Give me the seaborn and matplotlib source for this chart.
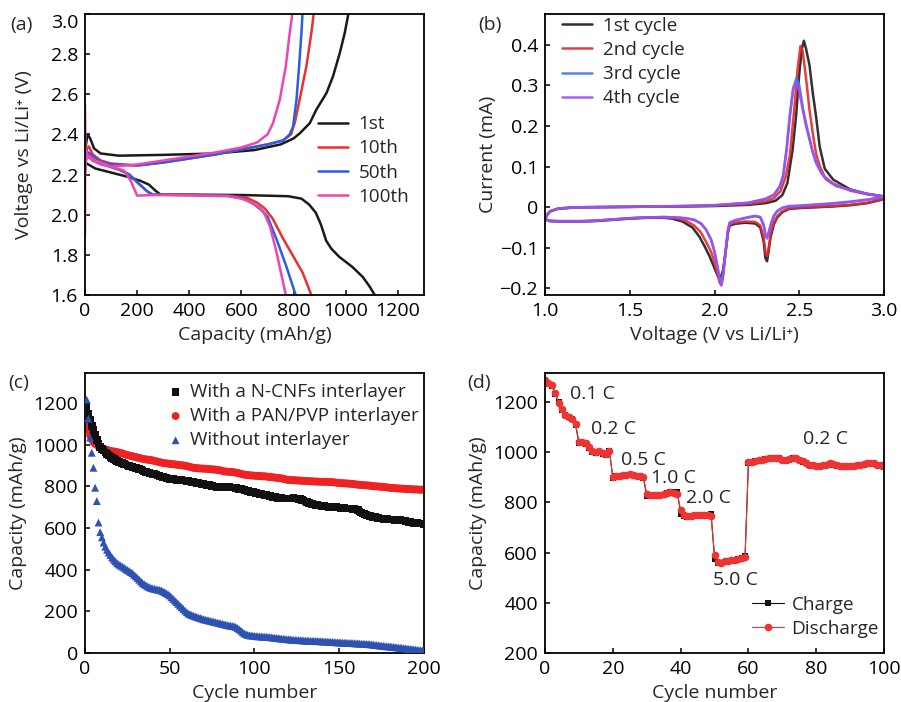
import numpy as np
import pandas as pd
import matplotlib
matplotlib.use('Agg')
import matplotlib.pyplot as plt
import seaborn as sns

# ---------------- data: (a) charge/discharge profiles ----------------
cap_dis_1 = [0, 40, 100, 160, 210, 245, 270, 290, 400, 600, 780, 830, 860, 885, 905, 925, 945, 975, 1025, 1065, 1090, 1111]
v_dis_1 = [2.26, 2.23, 2.21, 2.19, 2.17, 2.15, 2.12, 2.10, 2.10, 2.098, 2.092, 2.08, 2.05, 2.01, 1.95, 1.87, 1.83, 1.79, 1.74, 1.69, 1.645, 1.60]
cap_chg_1 = [0, 4, 10, 20, 35, 60, 130, 300, 500, 650, 750, 800, 825, 862, 887, 926, 951, 977, 996, 1010]
v_chg_1 = [2.25, 2.35, 2.40, 2.38, 2.33, 2.305, 2.294, 2.298, 2.305, 2.322, 2.35, 2.38, 2.407, 2.456, 2.523, 2.606, 2.689, 2.805, 2.905, 3.0]

cap_dis_10 = [0, 30, 80, 130, 170, 210, 240, 260, 400, 550, 620, 660, 690, 720, 760, 800, 835, 868]
v_dis_10 = [2.30, 2.27, 2.245, 2.225, 2.20, 2.15, 2.115, 2.10, 2.098, 2.095, 2.085, 2.06, 2.03, 1.98, 1.88, 1.79, 1.71, 1.60]
cap_chg_10 = [0, 3, 8, 15, 30, 60, 100, 200, 300, 400, 500, 600, 700, 760, 790, 805, 823, 849, 868, 877]
v_chg_10 = [2.20, 2.28, 2.33, 2.34, 2.30, 2.27, 2.255, 2.245, 2.26, 2.28, 2.30, 2.325, 2.35, 2.37, 2.40, 2.46, 2.573, 2.739, 2.905, 3.0]

cap_dis_50 = [0, 30, 80, 130, 170, 210, 240, 260, 400, 550, 610, 650, 680, 700, 735, 772, 808]
v_dis_50 = [2.31, 2.28, 2.25, 2.225, 2.20, 2.15, 2.115, 2.10, 2.098, 2.094, 2.08, 2.05, 2.02, 1.99, 1.876, 1.743, 1.60]
cap_chg_50 = [0, 3, 8, 15, 30, 60, 100, 200, 300, 400, 500, 600, 700, 760, 785, 798, 811, 821, 830, 834]
v_chg_50 = [2.22, 2.27, 2.30, 2.31, 2.29, 2.265, 2.25, 2.245, 2.26, 2.28, 2.30, 2.325, 2.35, 2.37, 2.40, 2.44, 2.573, 2.739, 2.905, 3.0]

cap_dis_100 = [0, 2, 8, 40, 100, 150, 175, 200, 260, 400, 550, 600, 640, 670, 690, 710, 735, 770]
v_dis_100 = [2.55, 2.33, 2.30, 2.27, 2.24, 2.22, 2.17, 2.095, 2.098, 2.097, 2.092, 2.08, 2.06, 2.035, 2.0, 1.94, 1.81, 1.60]
cap_chg_100 = [0, 0.5, 3, 8, 15, 30, 60, 100, 200, 300, 400, 500, 600, 660, 700, 721, 747, 770, 785, 795]
v_chg_100 = [1.90, 2.20, 2.26, 2.29, 2.29, 2.27, 2.25, 2.24, 2.25, 2.27, 2.29, 2.31, 2.335, 2.36, 2.40, 2.456, 2.573, 2.739, 2.905, 3.0]

# ---------------- data: (b) CV curves (cathodic 3.0->1.0, anodic 1.0->3.0) ----------------
cv1_cath_v = [3.0, 2.9, 2.8, 2.7, 2.6, 2.5, 2.44, 2.40, 2.37, 2.35, 2.33, 2.32, 2.31, 2.30, 2.29, 2.27, 2.24, 2.18, 2.12, 2.09, 2.08, 2.065, 2.05, 2.035, 2.025, 2.01, 1.99, 1.97, 1.94, 1.91, 1.87, 1.81, 1.75, 1.70, 1.60, 1.50, 1.40, 1.30, 1.20, 1.10, 1.03, 1.0]
cv1_cath_i = [0.020, 0.010, 0.005, 0.002, 0.0, -0.002, -0.004, -0.012, -0.025, -0.042, -0.075, -0.105, -0.133, -0.125, -0.085, -0.05, -0.04, -0.038, -0.041, -0.045, -0.06, -0.11, -0.155, -0.175, -0.174, -0.16, -0.14, -0.12, -0.095, -0.072, -0.05, -0.035, -0.028, -0.026, -0.026, -0.028, -0.031, -0.034, -0.035, -0.035, -0.034, -0.03]
cv1_anod_v = [1.0, 1.01, 1.03, 1.08, 1.2, 1.5, 1.8, 2.0, 2.2, 2.3, 2.36, 2.40, 2.43, 2.46, 2.48, 2.50, 2.515, 2.527, 2.54, 2.56, 2.58, 2.60, 2.62, 2.65, 2.70, 2.80, 2.90, 3.0]
cv1_anod_i = [-0.03, -0.02, -0.01, -0.003, 0.0, 0.001, 0.002, 0.003, 0.006, 0.01, 0.016, 0.03, 0.06, 0.14, 0.22, 0.33, 0.39, 0.41, 0.39, 0.35, 0.28, 0.22, 0.15, 0.095, 0.068, 0.044, 0.033, 0.027]

cv2_cath_v = [3.0, 2.9, 2.8, 2.7, 2.6, 2.5, 2.44, 2.40, 2.37, 2.35, 2.33, 2.32, 2.31, 2.30, 2.29, 2.27, 2.24, 2.18, 2.12, 2.09, 2.08, 2.065, 2.05, 2.04, 2.03, 2.015, 2.0, 1.98, 1.95, 1.92, 1.88, 1.83, 1.77, 1.70, 1.60, 1.50, 1.40, 1.30, 1.20, 1.10, 1.03, 1.0]
cv2_cath_i = [0.021, 0.011, 0.006, 0.003, 0.001, -0.001, -0.003, -0.01, -0.022, -0.038, -0.068, -0.098, -0.12, -0.11, -0.075, -0.045, -0.036, -0.035, -0.038, -0.042, -0.058, -0.11, -0.17, -0.192, -0.185, -0.16, -0.135, -0.11, -0.085, -0.062, -0.045, -0.033, -0.027, -0.025, -0.025, -0.027, -0.030, -0.033, -0.034, -0.034, -0.033, -0.03]
cv2_anod_v = [1.0, 1.01, 1.03, 1.08, 1.2, 1.5, 1.8, 2.0, 2.2, 2.3, 2.35, 2.39, 2.42, 2.445, 2.47, 2.49, 2.507, 2.52, 2.543, 2.56, 2.582, 2.60, 2.622, 2.65, 2.70, 2.80, 2.90, 3.0]
cv2_anod_i = [-0.03, -0.02, -0.01, -0.003, 0.0, 0.001, 0.002, 0.004, 0.008, 0.014, 0.022, 0.04, 0.075, 0.13, 0.24, 0.34, 0.397, 0.385, 0.306, 0.24, 0.175, 0.13, 0.1, 0.075, 0.058, 0.041, 0.032, 0.026]

cv3_cath_v = [3.0, 2.9, 2.8, 2.7, 2.6, 2.5, 2.44, 2.40, 2.37, 2.35, 2.335, 2.32, 2.31, 2.30, 2.29, 2.27, 2.24, 2.18, 2.12, 2.09, 2.08, 2.065, 2.05, 2.04, 2.03, 2.015, 2.0, 1.98, 1.95, 1.92, 1.88, 1.83, 1.77, 1.70, 1.60, 1.50, 1.40, 1.30, 1.20, 1.10, 1.03, 1.0]
cv3_cath_i = [0.025, 0.018, 0.013, 0.009, 0.006, 0.003, 0.002, -0.002, -0.01, -0.022, -0.04, -0.065, -0.077, -0.07, -0.045, -0.025, -0.022, -0.027, -0.033, -0.038, -0.055, -0.11, -0.165, -0.185, -0.175, -0.14, -0.11, -0.08, -0.055, -0.04, -0.031, -0.027, -0.025, -0.024, -0.025, -0.027, -0.030, -0.033, -0.035, -0.035, -0.034, -0.03]
cv3_anod_v = [1.0, 1.01, 1.03, 1.08, 1.2, 1.5, 1.8, 2.0, 2.2, 2.3, 2.35, 2.385, 2.405, 2.425, 2.444, 2.465, 2.484, 2.50, 2.523, 2.543, 2.562, 2.58, 2.60, 2.63, 2.66, 2.72, 2.80, 2.90, 3.0]
cv3_anod_i = [-0.03, -0.02, -0.01, -0.003, 0.0, 0.001, 0.003, 0.005, 0.011, 0.02, 0.03, 0.05, 0.076, 0.14, 0.224, 0.295, 0.319, 0.3, 0.24, 0.2, 0.167, 0.135, 0.109, 0.085, 0.068, 0.052, 0.043, 0.033, 0.026]

cv4_cath_v = [3.0, 2.9, 2.8, 2.7, 2.6, 2.5, 2.44, 2.40, 2.37, 2.35, 2.335, 2.32, 2.31, 2.30, 2.29, 2.27, 2.24, 2.18, 2.12, 2.09, 2.08, 2.065, 2.05, 2.04, 2.03, 2.015, 2.0, 1.98, 1.95, 1.92, 1.88, 1.83, 1.77, 1.70, 1.60, 1.50, 1.40, 1.30, 1.20, 1.10, 1.03, 1.0]
cv4_cath_i = [0.026, 0.019, 0.014, 0.010, 0.007, 0.004, 0.003, -0.001, -0.009, -0.02, -0.037, -0.06, -0.072, -0.066, -0.043, -0.024, -0.021, -0.026, -0.032, -0.037, -0.054, -0.11, -0.17, -0.192, -0.18, -0.142, -0.11, -0.08, -0.055, -0.04, -0.031, -0.027, -0.025, -0.024, -0.025, -0.027, -0.030, -0.033, -0.035, -0.035, -0.034, -0.03]
cv4_anod_v = [1.0, 1.01, 1.03, 1.08, 1.2, 1.5, 1.8, 2.0, 2.2, 2.3, 2.35, 2.385, 2.405, 2.425, 2.444, 2.463, 2.48, 2.497, 2.52, 2.54, 2.56, 2.58, 2.60, 2.63, 2.66, 2.72, 2.80, 2.90, 3.0]
cv4_anod_i = [-0.03, -0.02, -0.01, -0.003, 0.0, 0.001, 0.003, 0.005, 0.011, 0.021, 0.031, 0.052, 0.08, 0.145, 0.225, 0.29, 0.306, 0.29, 0.24, 0.2, 0.167, 0.135, 0.109, 0.085, 0.068, 0.052, 0.043, 0.033, 0.026]

# ---------------- data: (c) long cycling ----------------
cycles_c = list(range(1, 201))
cap_ncnf = [1180, 1150, 1120, 1090, 1070, 1045, 1022, 1005, 990, 980,
            972, 962, 955, 948, 942, 936, 930, 926, 922, 918,
            915, 912, 908, 905, 900, 898, 896, 894, 890, 888,
            885, 882, 880, 876, 872, 870, 866, 864, 862, 860,
            858, 856, 852, 850, 848, 845, 842, 840, 838, 836,
            835, 834, 832, 831, 830, 830, 829, 828, 828, 826,
            825, 823, 821, 820, 818, 816, 815, 814, 812, 810,
            808, 806, 805, 803, 801, 800, 799, 798, 797, 796,
            796, 797, 798, 797, 796, 795, 794, 794, 792, 790,
            788, 786, 784, 782, 780, 778, 776, 774, 772, 770,
            768, 766, 764, 762, 760, 758, 757, 755, 753, 751,
            750, 748, 746, 745, 744, 743, 742, 742, 741, 741,
            742, 742, 743, 742, 741, 740, 738, 735, 732, 728,
            724, 720, 717, 714, 712, 710, 709, 708, 707, 706,
            705, 704, 703, 702, 702, 702, 701, 700, 699, 698,
            697, 696, 695, 694, 694, 694, 693, 692, 690, 688,
            685, 680, 675, 670, 666, 663, 660, 658, 656, 654,
            652, 650, 648, 646, 645, 644, 643, 642, 641, 640,
            640, 640, 639, 638, 638, 637, 636, 635, 634, 632,
            630, 628, 626, 625, 624, 623, 622, 622, 621, 620]
cap_panpvp = [1095, 1070, 1045, 1025, 1012, 1004, 998, 993, 988, 984,
              980, 977, 975, 972, 970, 968, 967, 966, 964, 962,
              960, 958, 955, 952, 950, 948, 946, 944, 942, 940,
              938, 936, 934, 932, 930, 929, 928, 927, 926, 924,
              922, 920, 918, 916, 914, 912, 911, 910, 909, 908,
              907, 906, 905, 904, 903, 902, 901, 900, 899, 897,
              895, 893, 891, 889, 888, 887, 886, 886, 885, 885,
              884, 884, 883, 882, 881, 881, 880, 879, 878, 876,
              874, 872, 871, 870, 870, 869, 868, 867, 866, 864,
              862, 860, 858, 856, 855, 854, 853, 852, 852, 851,
              850, 850, 849, 849, 848, 848, 847, 846, 845, 844,
              843, 842, 841, 840, 839, 838, 836, 834, 832, 831,
              830, 830, 829, 829, 828, 828, 827, 827, 826, 826,
              825, 825, 824, 824, 823, 823, 823, 822, 822, 822,
              822, 822, 821, 821, 820, 820, 819, 818, 817, 816,
              815, 815, 814, 814, 813, 813, 812, 811, 810, 809,
              808, 807, 806, 806, 805, 805, 804, 803, 802, 801,
              800, 800, 799, 798, 798, 797, 796, 795, 794, 793,
              792, 792, 791, 790, 790, 789, 789, 788, 788, 787,
              787, 786, 786, 785, 785, 785, 784, 784, 784, 784]
cap_none = [1216, 1125, 1034, 961, 889, 793, 729, 626, 580, 555,
            530, 510, 495, 482, 470, 458, 448, 440, 431, 425,
            420, 415, 410, 404, 399, 394, 388, 383, 375, 368,
            360, 352, 344, 336, 330, 325, 320, 316, 312, 310,
            308, 306, 304, 303, 300, 296, 292, 287, 282, 276,
            268, 260, 252, 244, 236, 228, 220, 212, 204, 196,
            190, 186, 182, 179, 176, 173, 170, 168, 165, 162,
            160, 158, 156, 154, 152, 150, 148, 146, 144, 142,
            140, 138, 136, 134, 132, 131, 130, 128, 125, 120,
            114, 108, 100, 94, 90, 87, 85, 84, 83, 82,
            81, 80, 80, 79, 79, 78, 78, 77, 76, 75,
            74, 73, 72, 71, 70, 69, 68, 67, 66, 66,
            65, 64, 63, 63, 62, 62, 61, 61, 60, 60,
            59, 59, 58, 58, 58, 57, 57, 57, 56, 56,
            55, 55, 54, 54, 53, 53, 52, 52, 51, 51,
            50, 50, 49, 49, 48, 48, 48, 47, 47, 46,
            46, 45, 45, 44, 44, 43, 43, 42, 41, 40,
            39, 38, 37, 36, 35, 34, 33, 32, 32, 31,
            30, 29, 28, 27, 26, 25, 24, 23, 22, 21,
            20, 19, 18, 17, 16, 15, 14, 13, 12, 11]

# ---------------- data: (d) rate performance ----------------
cycles_d = list(range(0, 101))
cap_charge = [1285, 1272, 1265, 1230, 1200, 1168, 1146, 1138, 1130, 1108,
              1035, 1038, 1032, 1018, 1002, 998, 1000, 993, 990, 1005,
              898, 903, 904, 906, 908, 910, 907, 904, 903, 898,
              825, 826, 828, 826, 828, 830, 836, 840, 840, 842,
              755, 745, 742, 743, 746, 747, 747, 747, 747, 752,
              575, 558, 558, 563, 566, 568, 570, 574, 578, 585,
              958, 960, 963, 966, 968, 971, 974, 976, 977, 975,
              968, 966, 970, 976, 974, 968, 962, 955, 948, 946,
              944, 943, 946, 948, 953, 950, 946, 944, 943, 942,
              943, 944, 946, 948, 950, 953, 956, 953, 948, 946, 942]
cap_discharge = [1289, 1276, 1268, 1235, 1195, 1170, 1148, 1140, 1133, 1112,
                 1041, 1040, 1035, 1020, 1005, 1000, 1003, 995, 993, 1003,
                 900, 905, 905, 908, 910, 912, 908, 905, 905, 900,
                 835, 830, 830, 828, 830, 832, 838, 840, 838, 835,
                 770, 750, 745, 745, 748, 748, 748, 748, 748, 745,
                 590, 562, 560, 565, 568, 570, 572, 575, 580, 582,
                 960, 962, 965, 968, 970, 972, 975, 978, 978, 976,
                 970, 968, 972, 978, 975, 970, 965, 958, 950, 948,
                 946, 945, 948, 950, 955, 952, 948, 946, 945, 944,
                 945, 946, 948, 950, 952, 955, 958, 955, 950, 948, 945]
rate_labels = ['0.1 C', '0.2 C', '0.5 C', '1.0 C', '2.0 C', '5.0 C', '0.2 C']
rate_label_x = [7.4, 13.6, 22.5, 31.3, 41.5, 49.6, 76.2]
rate_label_y = [1233, 1090, 968, 895, 816, 491, 1054]

# ---------------- style ----------------
sns.set_style('ticks')
plt.rcParams['font.family'] = ['Open Sans', 'DejaVu Sans']
plt.rcParams['axes.unicode_minus'] = True
FS = 14
LFS = 13.6

fig = plt.figure(figsize=(9.01, 7.02), dpi=100)
ax_a = fig.add_axes([0.0943, 0.5798, 0.3763, 0.4003])
ax_b = fig.add_axes([0.6049, 0.5798, 0.3763, 0.4003])
ax_c = fig.add_axes([0.0943, 0.0698, 0.3763, 0.3989])
ax_d = fig.add_axes([0.6049, 0.0698, 0.3763, 0.3989])


def style_ax(ax):
    for s in ax.spines.values():
        s.set_visible(True)
        s.set_linewidth(1.3)
        s.set_color('black')
    ax.tick_params(direction='in', length=3.5, width=1.1, top=False, right=False,
                   labelsize=FS, pad=5, colors='black')


# (a)
a_colors = ['#1a1a1a', '#ea3030', '#2a5ee0', '#ee45b0']
a_sets = [(cap_dis_1, v_dis_1, cap_chg_1, v_chg_1, '1st'),
          (cap_dis_10, v_dis_10, cap_chg_10, v_chg_10, '10th'),
          (cap_dis_50, v_dis_50, cap_chg_50, v_chg_50, '50th'),
          (cap_dis_100, v_dis_100, cap_chg_100, v_chg_100, '100th')]
for (cd, vd, cc, vc, lab), col in zip(a_sets, a_colors):
    sns.lineplot(x=cd, y=vd, sort=False, estimator=None, color=col, lw=1.8, ax=ax_a, label=lab)
    sns.lineplot(x=cc, y=vc, sort=False, estimator=None, color=col, lw=1.8, ax=ax_a)
ax_a.set_xlim(0, 1300)
ax_a.set_ylim(1.6, 3.0)
ax_a.set_xticks([0, 200, 400, 600, 800, 1000, 1200])
ax_a.set_yticks([1.6, 1.8, 2.0, 2.2, 2.4, 2.6, 2.8, 3.0])
ax_a.set_yticklabels(['1.6', '1.8', '2.0', '2.2', '2.4', '2.6', '2.8', '3.0'])
ax_a.set_xlabel('Capacity (mAh/g)', fontsize=FS)
ax_a.set_ylabel('Voltage vs Li/Li⁺ (V)', fontsize=FS)
ax_a.legend(loc='upper left', bbox_to_anchor=(0.687, 0.64), frameon=False, fontsize=LFS,
            handlelength=1.6, handletextpad=0.55, labelspacing=0.33, borderpad=0, borderaxespad=0)

# (b)
b_colors = ['#1a1a1a', '#e82828', '#4a70e6', '#a050ee']
b_sets = [(cv1_cath_v, cv1_cath_i, cv1_anod_v, cv1_anod_i, '1st cycle'),
          (cv2_cath_v, cv2_cath_i, cv2_anod_v, cv2_anod_i, '2nd cycle'),
          (cv3_cath_v, cv3_cath_i, cv3_anod_v, cv3_anod_i, '3rd cycle'),
          (cv4_cath_v, cv4_cath_i, cv4_anod_v, cv4_anod_i, '4th cycle')]
for (cv, ci, av, ai, lab), col in zip(b_sets, b_colors):
    sns.lineplot(x=cv + av, y=ci + ai, sort=False, estimator=None, color=col, lw=1.8,
                 alpha=0.9, ax=ax_b, label=lab)
ax_b.set_xlim(1.0, 3.0)
ax_b.set_ylim(-0.216, 0.476)
ax_b.set_xticks([1.0, 1.5, 2.0, 2.5, 3.0])
ax_b.set_xticklabels(['1.0', '1.5', '2.0', '2.5', '3.0'])
ax_b.set_yticks([-0.2, -0.1, 0, 0.1, 0.2, 0.3, 0.4])
ax_b.set_yticklabels(['−0.2', '−0.1', '0', '0.1', '0.2', '0.3', '0.4'])
ax_b.set_xlabel('Voltage (V vs Li/Li⁺)', fontsize=FS)
ax_b.set_ylabel('Current (mA)', fontsize=FS)
ax_b.legend(loc='upper left', bbox_to_anchor=(0.05, 0.99), frameon=False, fontsize=LFS,
            handlelength=1.6, handletextpad=0.55, labelspacing=0.33, borderpad=0, borderaxespad=0)

# (c)
sns.scatterplot(x=cycles_c, y=cap_panpvp, marker='o', s=32, color='#ee2222', edgecolor='none',
                ax=ax_c, label='With a PAN/PVP interlayer', zorder=2)
sns.scatterplot(x=cycles_c, y=cap_ncnf, marker='s', s=30, color='#111111', edgecolor='none',
                ax=ax_c, label='With a N-CNFs interlayer', zorder=3)
sns.scatterplot(x=cycles_c, y=cap_none, marker='^', s=32, color='#2d52b2', edgecolor='none',
                ax=ax_c, label='Without interlayer', zorder=4)
ax_c.set_xlim(0, 200)
ax_c.set_ylim(0, 1344)
ax_c.set_xticks([0, 50, 100, 150, 200])
ax_c.set_yticks([0, 200, 400, 600, 800, 1000, 1200])
ax_c.set_xlabel('Cycle number', fontsize=FS)
ax_c.set_ylabel('Capacity (mAh/g)', fontsize=FS)
h, l = ax_c.get_legend_handles_labels()
order = [1, 0, 2]
ax_c.legend([h[i] for i in order], [l[i] for i in order], loc='upper left',
            bbox_to_anchor=(0.245, 0.965), frameon=False, fontsize=LFS, handlelength=0.8,
            handletextpad=0.35, labelspacing=0.33, borderpad=0, borderaxespad=0)

# (d)
sns.lineplot(x=cycles_d, y=cap_charge, estimator=None, color='#111111', lw=0.8, marker='s',
             markersize=4.5, markeredgewidth=0, ax=ax_d, label='Charge')
sns.lineplot(x=cycles_d, y=cap_discharge, estimator=None, color='#ee3333', lw=0.8, marker='o',
             markersize=5.5, markeredgewidth=0, ax=ax_d, label='Discharge')
for txt, tx, ty in zip(rate_labels, rate_label_x, rate_label_y):
    ax_d.text(tx, ty, txt, fontsize=FS, ha='left', va='center')
ax_d.set_xlim(0, 100)
ax_d.set_ylim(200, 1315)
ax_d.set_xticks([0, 20, 40, 60, 80, 100])
ax_d.set_yticks([200, 400, 600, 800, 1000, 1200])
ax_d.set_xlabel('Cycle number', fontsize=FS)
ax_d.set_ylabel('Capacity (mAh/g)', fontsize=FS)
ax_d.legend(loc='upper left', bbox_to_anchor=(0.61, 0.205), frameon=False, fontsize=LFS,
            handlelength=1.7, handletextpad=0.4, labelspacing=0.33, borderpad=0, borderaxespad=0)

for ax, lx in zip([ax_a, ax_b, ax_c, ax_d], [-0.153, -0.142, -0.171, -0.171]):
    style_ax(ax)
    ax.yaxis.set_label_coords(lx, 0.5)
    ax.xaxis.set_label_coords(0.5, -0.112)

# the top tick label of (a) sits just below its tick, as in the original
ax_a.get_yticklabels()[-1].set_va('top')

fig.text(0.011, 1 - 25 / 702, '(a)', fontsize=FS, va='center', ha='left')
fig.text(0.5305, 1 - 25 / 702, '(b)', fontsize=FS, va='center', ha='left')
fig.text(0.009, 1 - 383 / 702, '(c)', fontsize=FS, va='center', ha='left')
fig.text(0.519, 1 - 383 / 702, '(d)', fontsize=FS, va='center', ha='left')

fig.savefig('out.png', dpi=100)
